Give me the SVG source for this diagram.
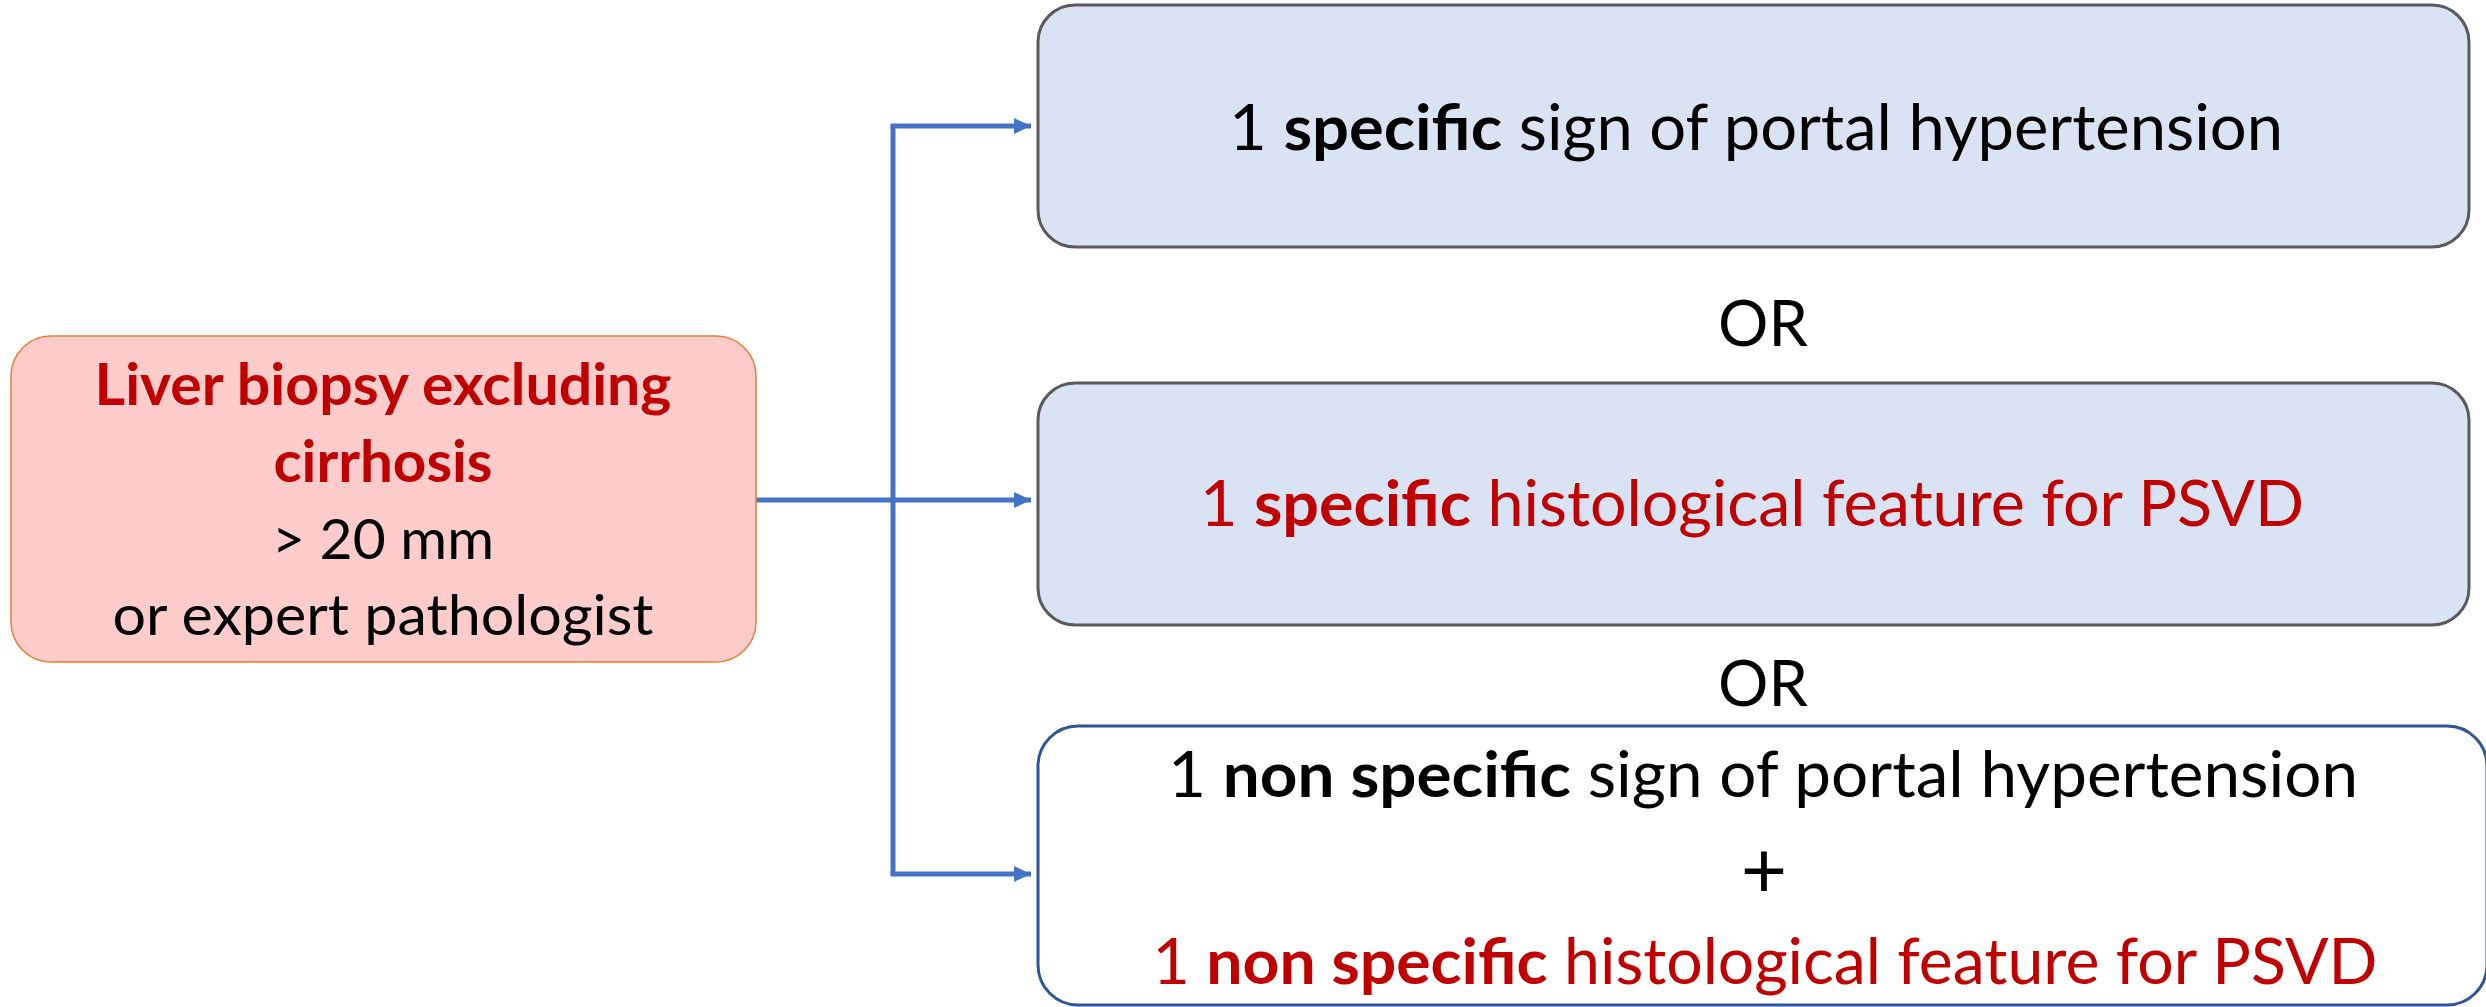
<svg xmlns="http://www.w3.org/2000/svg" width="2486" height="1007" viewBox="0 0 2486 1007">
<style>
text { font-family: Lato, "Liberation Sans", sans-serif; text-anchor: middle; }
.blk { fill: #000000; }
.red { fill: #C00000; }
.b { font-weight: bold; }
.big { font-size: 63px; }
.side { font-size: 57px; }
.conn { fill: none; stroke: #4472C4; stroke-width: 5; }
</style>
<defs>
<marker id="ah" markerUnits="userSpaceOnUse" markerWidth="17" markerHeight="16" refX="17" refY="8" orient="auto">
<path d="M0,0 L17,8 L0,16 Z" fill="#4472C4"/>
</marker>
</defs>
<g id="connectors">
<path class="conn" d="M756,500 L1031,500" marker-end="url(#ah)"/>
<path class="conn" d="M893,126 L893,874"/>
<path class="conn" d="M890.5,126 L1031,126" marker-end="url(#ah)"/>
<path class="conn" d="M890.5,874 L1031,874" marker-end="url(#ah)"/>
</g>
<g id="node-biopsy">
<rect x="11" y="336" width="745" height="326" rx="40" ry="40" fill="#FFCCCC" stroke="#ED7D31" stroke-width="1.5"/>
<text class="side red b" x="383" y="405" textLength="577" lengthAdjust="spacingAndGlyphs">Liver biopsy excluding</text>
<text class="side red b" x="383" y="482" textLength="219" lengthAdjust="spacingAndGlyphs">cirrhosis</text>
<text class="side blk" x="383" y="559" textLength="222" lengthAdjust="spacingAndGlyphs">&gt; 20 mm</text>
<text class="side blk" x="383" y="635" textLength="541" lengthAdjust="spacingAndGlyphs">or expert pathologist</text>
</g>
<g id="node-specific-sign">
<rect x="1038" y="5" width="1431" height="242" rx="37" ry="37" fill="#DAE3F3" stroke="#5A5A5A" stroke-width="3"/>
<text class="big blk" x="1756" y="150" textLength="1054" lengthAdjust="spacingAndGlyphs">1 <tspan class="b">specific</tspan> sign of portal hypertension</text>
</g>
<g id="or-1">
<text class="big blk" x="1763" y="346">OR</text>
</g>
<g id="node-specific-histo">
<rect x="1038" y="383" width="1431" height="242" rx="37" ry="37" fill="#DAE3F3" stroke="#5A5A5A" stroke-width="3"/>
<text class="big red" x="1752" y="526" textLength="1104" lengthAdjust="spacingAndGlyphs">1 <tspan class="b">specific</tspan> histological feature for PSVD</text>
</g>
<g id="or-2">
<text class="big blk" x="1763" y="706">OR</text>
</g>
<g id="node-nonspecific">
<rect x="1038" y="726" width="1449" height="279" rx="40" ry="40" fill="#FFFFFF" stroke="#2F5597" stroke-width="3"/>
<text class="big blk" x="1763" y="797" textLength="1190" lengthAdjust="spacingAndGlyphs">1 <tspan class="b">non specific</tspan> sign of portal hypertension</text>
<text class="blk" x="1764" y="898" style="font-size:80px">+</text>
<text class="big red" x="1765" y="984" textLength="1225" lengthAdjust="spacingAndGlyphs">1 <tspan class="b">non specific</tspan> histological feature for PSVD</text>
</g>
</svg>
